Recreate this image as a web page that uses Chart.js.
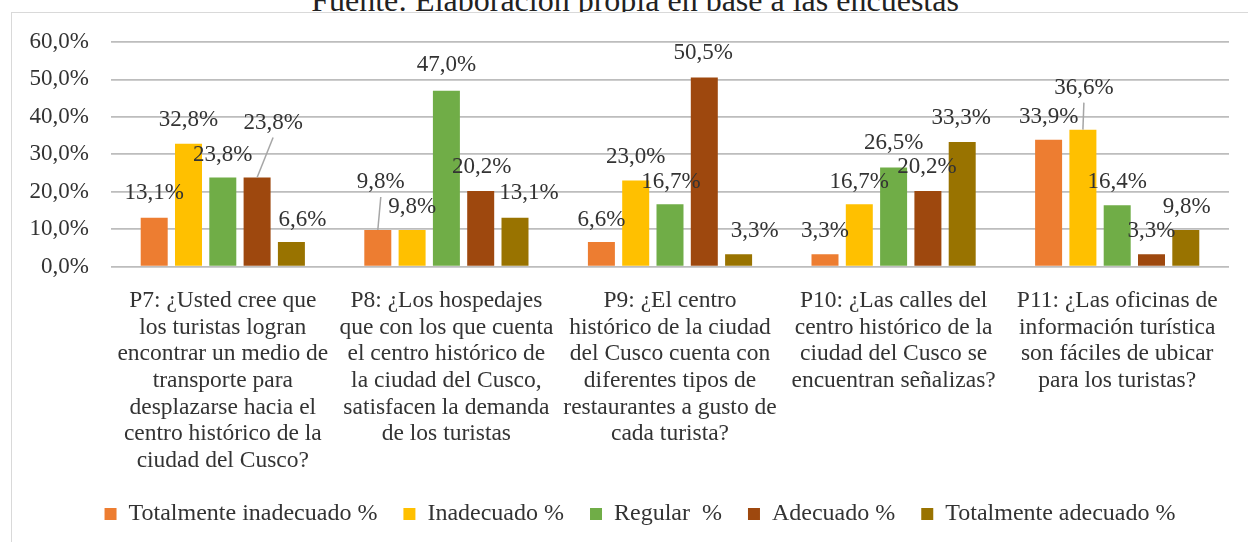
<!DOCTYPE html>
<html>
<head>
<meta charset="utf-8">
<script src="https://cdn.jsdelivr.net/npm/chart.js@4.4.1/dist/chart.umd.min.js"></script>
<style>
  html, body { margin: 0; padding: 0; background: #ffffff; overflow: hidden; }
  body { width: 1248px; height: 542px; position: relative; }
  #title {
    position: absolute; left: 0; width: 1270px; top: -16px;
    text-align: center; font-family: 'Liberation Serif', 'Times New Roman', serif;
    font-size: 32px; line-height: 32px; color: #222; white-space: nowrap; z-index: 1;
  }
  #frame {
    position: absolute; left: 11px; top: 12px; width: 1260px; height: 560px;
    border: 1px solid #d9d9d9; background: #ffffff; z-index: 2;
  }
  #c { position: absolute; left: 0; top: 0; z-index: 3; }
</style>
</head>
<body>
<div id="title">Fuente: Elaboración propia en base a las encuestas</div>
<div id="frame"></div>
<canvas id="c" width="1248" height="542"></canvas>
<script>
// ---- data ----
const categories = [
  ["P7: ¿Usted cree que", "los turistas logran", "encontrar un medio de", "transporte para", "desplazarse hacia el", "centro histórico de la", "ciudad del Cusco?"],
  ["P8: ¿Los hospedajes", "que con los que cuenta", "el centro histórico de", "la ciudad del Cusco,", "satisfacen la demanda", "de los turistas"],
  ["P9: ¿El centro", "histórico de la ciudad", "del Cusco cuenta con", "diferentes tipos de", "restaurantes a gusto de", "cada turista?"],
  ["P10: ¿Las calles del", "centro histórico de la", "ciudad del Cusco se", "encuentran señalizas?"],
  ["P11: ¿Las oficinas de", "información turística", "son fáciles de ubicar", "para los turistas?"]
];
const seriesNames = ["Totalmente inadecuado %", "Inadecuado %", "Regular  %", "Adecuado %", "Totalmente adecuado %"];
const totalmenteInadecuado = [13.1, 9.8, 6.6, 3.3, 33.9];
const inadecuado           = [32.8, 9.8, 23.0, 16.7, 36.6];
const regular              = [23.8, 47.0, 16.7, 26.5, 16.4];
const adecuado             = [23.8, 20.2, 50.5, 20.2, 3.3];
const totalmenteAdecuado   = [6.6, 13.1, 3.3, 33.3, 9.8];
const yTicks = [0, 10, 20, 30, 40, 50, 60];

// ---- styling ----
const colors = ['#ED7D31', '#FFC000', '#70AD47', '#9E480E', '#997300'];
const FONT = "'Liberation Serif', 'Times New Roman', serif";
const TEXT = '#333333';
// label nudges [dx, dy, leaderLine] per series / category (label placement only)
const labelNudges = [
  [[0,-1],[3,-24,true],[0,2],[0,1],[0,1]],
  [[0,0],[0,1],[0,0],[0,2],[1,-18,true]],
  [[0,1],[0,-2],[1,2],[0,-1],[0,1]],
  [[16,-31,true],[1,0],[-1,-1],[-1,0],[0,1]],
  [[11,2],[14,-1],[16,1],[-1,0],[1,1]]
];

const fmt = v => v.toFixed(1).replace('.', ',') + '%';

const valueLabels = {
  id: 'valueLabels',
  afterLayout(chart) {
    // centre the legend row on the page as in the reference
    const lg = chart.legend;
    if (lg) { lg.left += 25.5; lg.right += 25.5; lg.top += 2; lg.bottom += 2; }
  },
  afterDatasetsDraw(chart) {
    const ctx = chart.ctx;
    ctx.save();
    ctx.font = '23px ' + FONT;
    ctx.textAlign = 'center';
    ctx.textBaseline = 'middle';
    chart.data.datasets.forEach((ds, i) => {
      const meta = chart.getDatasetMeta(i);
      meta.data.forEach((bar, j) => {
        const n = labelNudges[i][j] || [0, 0];
        const lx = bar.x + n[0];
        const ly = bar.y - 24 + n[1];
        if (n[2]) {
          ctx.strokeStyle = '#a6a6a6';
          ctx.lineWidth = 1.5;
          ctx.beginPath();
          ctx.moveTo(bar.x, bar.y);
          ctx.lineTo(lx, ly + 15);
          ctx.stroke();
        }
        ctx.fillStyle = TEXT;
        ctx.fillText(fmt(ds.data[j]), lx, ly);
      });
    });
    ctx.restore();
  }
};

const seriesValues = [totalmenteInadecuado, inadecuado, regular, adecuado, totalmenteAdecuado];

new Chart(document.getElementById('c'), {
  type: 'bar',
  data: {
    labels: categories,
    datasets: seriesValues.map((vals, i) => ({
      label: seriesNames[i],
      data: vals,
      backgroundColor: colors[i],
      borderWidth: 0,
      categoryPercentage: 0.767,
      barPercentage: 0.787
    }))
  },
  options: {
    responsive: false,
    animation: false,
    devicePixelRatio: 1,
    layout: { padding: { left: 0, right: 19, top: 42, bottom: 8 } },
    plugins: {
      title: { display: false },
      tooltip: { enabled: false },
      legend: {
        position: 'bottom',
        labels: {
          boxWidth: 12, boxHeight: 12, padding: 26,
          color: TEXT,
          font: { family: FONT, size: 24 }
        }
      }
    },
    scales: {
      x: {
        afterFit: s => { s.height = 207.3; },
        grid: { display: false, drawTicks: false },
        border: { display: false },
        ticks: {
          color: TEXT, padding: 21, maxRotation: 0, minRotation: 0, autoSkip: false,
          font: { family: FONT, size: 23.5, lineHeight: 1.132 }
        }
      },
      y: {
        min: 0, max: 60,
        afterFit: s => { s.width = 111; },
        afterBuildTicks: s => { s.ticks = yTicks.map(v => ({ value: v })); },
        grid: { color: '#bdbdbd', lineWidth: 1.75, drawTicks: false },
        border: { display: false },
        ticks: {
          color: TEXT, padding: 22, stepSize: 10,
          font: { family: FONT, size: 23 },
          callback: v => fmt(v)
        }
      }
    }
  },
  plugins: [valueLabels]
});
</script>
</body>
</html>
